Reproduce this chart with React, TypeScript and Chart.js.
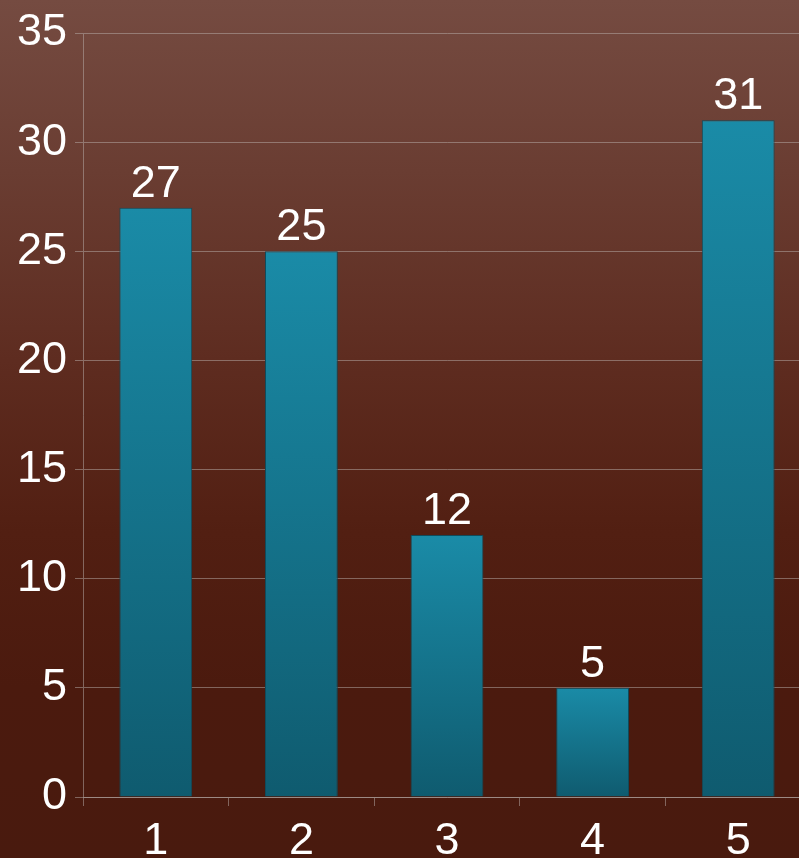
import React, { useEffect, useRef } from "react";
import { Chart, registerables } from "chart.js";

Chart.register(...registerables);

const categories = ["1", "2", "3", "4", "5"];
const values = [27, 25, 12, 5, 31];
const yTicks = [0, 5, 10, 15, 20, 25, 30, 35];

const FONT = "'Liberation Sans', Arial, sans-serif";
const GRID = "rgba(185, 175, 172, 0.5)";

// Writes each bar's value above its top edge.
const valueLabels = {
  id: "valueLabels",
  afterDatasetsDraw(chart: any) {
    const { ctx } = chart;
    const meta = chart.getDatasetMeta(0);
    ctx.save();
    ctx.fillStyle = "#ffffff";
    ctx.font = `45px ${FONT}`;
    ctx.textAlign = "center";
    ctx.textBaseline = "alphabetic";
    meta.data.forEach((bar: any, i: number) => {
      ctx.fillText(String(values[i]), bar.x, bar.y - 11);
    });
    ctx.restore();
  },
};

export default function App() {
  const ref = useRef<HTMLCanvasElement>(null);

  useEffect(() => {
    if (!ref.current) return;
    const chart = new Chart(ref.current, {
      type: "bar",
      data: {
        labels: categories,
        datasets: [
          {
            data: values,
            backgroundColor: (c: any) => {
              const ch = c.chart;
              const y = ch.scales?.y;
              if (!y || !ch.chartArea) return "#167b95";
              const top = y.getPixelForValue(c.raw);
              const bottom = y.getPixelForValue(0);
              const g = ch.ctx.createLinearGradient(0, top, 0, bottom);
              g.addColorStop(0, "#1a8ba7");
              g.addColorStop(1, "#0f5b6f");
              return g;
            },
            borderColor: "#104b5b",
            borderWidth: 1,
            borderSkipped: "bottom",
            barPercentage: 0.5,
            categoryPercentage: 1,
          },
        ],
      },
      options: {
        responsive: false,
        animation: false,
        layout: { padding: { top: 33, left: 0, right: 0, bottom: 0 } },
        plugins: { legend: { display: false }, tooltip: { enabled: false } },
        scales: {
          x: {
            offset: true,
            grid: {
              offset: true,
              drawOnChartArea: false,
              color: GRID,
              tickLength: 9,
            },
            border: { display: true, color: GRID },
            ticks: {
              color: "#ffffff",
              font: { family: FONT, size: 45 },
              padding: 9,
            },
            afterFit: (s: any) => {
              s.height = 61;
            },
          },
          y: {
            min: 0,
            max: 35,
            afterBuildTicks: (s: any) => {
              s.ticks = yTicks.map((v) => ({ value: v }));
            },
            grid: { color: GRID, tickLength: 8 },
            border: { display: true, color: GRID },
            ticks: {
              color: "#ffffff",
              font: { family: FONT, size: 45, lineHeight: 1 },
              padding: 8,
            },
            afterFit: (s: any) => {
              s.width = 83;
              s.paddingTop = 0;
              s.paddingBottom = 0;
            },
          },
        },
      },
      plugins: [valueLabels],
    });
    return () => chart.destroy();
  }, []);

  return (
    <div
      style={{
        position: "fixed",
        left: 0,
        top: 0,
        width: 799,
        height: 858,
        overflow: "hidden",
        background:
          "linear-gradient(to bottom, #754b41 0%, #6a3d32 20%, #5e2c20 42%, #521f12 62%, #4b1a0e 80%, #491a0e 100%)",
      }}
    >
      <canvas ref={ref} width={811} height={858} style={{ display: "block" }} />
    </div>
  );
}
